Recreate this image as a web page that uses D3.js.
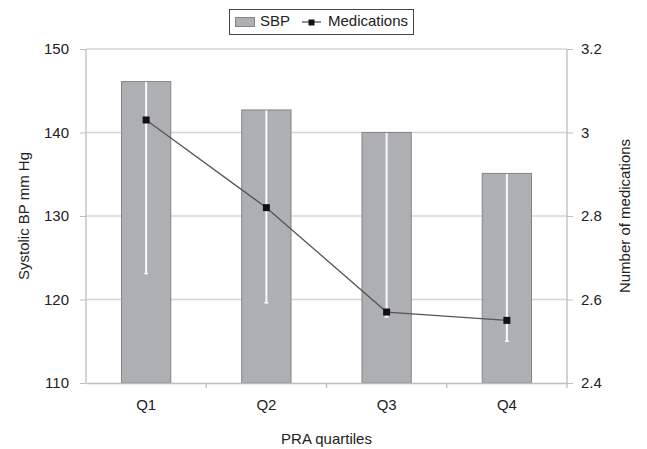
<!DOCTYPE html>
<html>
<head>
<meta charset="utf-8">
<script src="https://cdn.jsdelivr.net/npm/d3@7"></script>
<style>
  body { margin: 0; background: #fff; }
  text { font-family: "Liberation Sans", Arial, sans-serif; fill: #222; }
</style>
</head>
<body>
<div id="chart"></div>
<script>
// Data.
let quartiles = ["Q1", "Q2", "Q3", "Q4"];
let sbpMeans = [146.1, 142.7, 140.0, 135.1];
let sbpLower = [123.1, 119.6, 117.9, 115.0];  // lower end of error bars
let medications = [3.03, 2.82, 2.57, 2.55];
let leftTicks = [110, 120, 130, 140, 150];
let rightTicks = [2.4, 2.6, 2.8, 3, 3.2];

let W = 647, H = 449;
let margin = {top: 49, right: 80, bottom: 66, left: 86};
let width = W - margin.left - margin.right,
    height = H - margin.top - margin.bottom;

let data = quartiles.map((q, i) => ({q: q, sbp: sbpMeans[i], lo: sbpLower[i], med: medications[i]}));

let svg = d3.select("#chart").append("svg")
    .attr("width", W).attr("height", H);

let g = svg.append("g").attr("transform", "translate(" + margin.left + "," + margin.top + ")");

// Scales.
let x = d3.scaleBand().domain(quartiles).range([0, width]).paddingInner(0).paddingOuter(0);
let yL = d3.scaleLinear().domain([110, 150]).range([height, 0]);
let yR = d3.scaleLinear().domain([2.4, 3.2]).range([height, 0]);

let gridColor = "#d4d4d4";
let axisColor = "#bdbdbd";

// Gridlines.
g.append("g").selectAll("line")
  .data(leftTicks.slice(1))
  .enter().append("line")
  .attr("x1", 0).attr("x2", width)
  .attr("y1", d => yL(d)).attr("y2", d => yL(d))
  .attr("stroke", gridColor).attr("stroke-width", 1.3);

// Bars.
let bw = x.bandwidth() * 0.41;
g.append("g").selectAll("rect")
  .data(data)
  .enter().append("rect")
  .attr("x", d => x(d.q) + x.bandwidth() / 2 - bw / 2)
  .attr("y", d => yL(d.sbp))
  .attr("width", bw)
  .attr("height", d => height - yL(d.sbp))
  .attr("fill", "#aeafb2")
  .attr("stroke", "#858585")
  .attr("stroke-width", 1);

// Error bars (white, the upper half disappears against the white background).
let eb = g.append("g");
eb.selectAll("line.eb")
  .data(data)
  .enter().append("line")
  .attr("class", "eb")
  .attr("x1", d => x(d.q) + x.bandwidth() / 2)
  .attr("x2", d => x(d.q) + x.bandwidth() / 2)
  .attr("y1", d => yL(d.sbp) + 0.5)
  .attr("y2", d => yL(d.lo))
  .attr("stroke", "#fafafa").attr("stroke-width", 2);
eb.selectAll("line.cap")
  .data(data)
  .enter().append("line")
  .attr("class", "cap")
  .attr("x1", d => x(d.q) + x.bandwidth() / 2 - 2)
  .attr("x2", d => x(d.q) + x.bandwidth() / 2 + 2)
  .attr("y1", d => yL(d.lo))
  .attr("y2", d => yL(d.lo))
  .attr("stroke", "#fafafa").attr("stroke-width", 1.5);

// Axes.
let axL = g.append("g")
  .call(d3.axisLeft(yL).tickValues(leftTicks).tickSize(6).tickPadding(11).tickFormat(d3.format("d")));
let axR = g.append("g")
  .attr("transform", "translate(" + width + ",0)")
  .call(d3.axisRight(yR).tickValues(rightTicks).tickSize(6).tickPadding(8).tickFormat(d => String(d)));
let axB = g.append("g")
  .attr("transform", "translate(0," + height + ")")
  .call(d3.axisBottom(x).tickSize(0).tickPadding(16));

[axL, axR, axB].forEach(a => {
  a.select(".domain").attr("stroke", axisColor).attr("stroke-width", 1.3);
  a.selectAll(".tick line").attr("stroke", axisColor);
  a.selectAll(".tick text").attr("fill", "#222").style("font-size", "15px")
    .style("font-family", "'Liberation Sans', Arial, sans-serif");
});
axL.select(".domain").attr("d", "M0," + height + "V0");
axR.select(".domain").attr("d", "M0," + height + "V0");

// Category separator ticks on x axis.
g.append("g").selectAll("line")
  .data(quartiles.slice(1).concat(["end"]))
  .enter().append("line")
  .attr("x1", (d, i) => i < 3 ? x(d) : width)
  .attr("x2", (d, i) => i < 3 ? x(d) : width)
  .attr("y1", height).attr("y2", height + 5)
  .attr("stroke", axisColor).attr("stroke-width", 1.3);

// Medications line.
g.append("path")
  .datum(data)
  .attr("fill", "none")
  .attr("stroke", "#555")
  .attr("stroke-width", 1.3)
  .attr("d", d3.line().x(d => x(d.q) + x.bandwidth() / 2).y(d => yR(d.med)));

g.append("g").selectAll("rect")
  .data(data)
  .enter().append("rect")
  .attr("x", d => x(d.q) + x.bandwidth() / 2 - 3.5)
  .attr("y", d => yR(d.med) - 3.5)
  .attr("width", 7).attr("height", 7)
  .attr("fill", "#111");

// Axis titles.
svg.append("text")
  .attr("transform", "translate(25," + (margin.top + height / 2) + ") rotate(-90)")
  .attr("text-anchor", "middle").attr("dominant-baseline", "middle")
  .style("font-size", "15px")
  .text("Systolic BP mm Hg");

svg.append("text")
  .attr("transform", "translate(626," + (margin.top + height / 2) + ") rotate(-90)")
  .attr("text-anchor", "middle").attr("dominant-baseline", "middle")
  .style("font-size", "15px")
  .text("Number of medications");

svg.append("text")
  .attr("x", margin.left + width / 2).attr("y", 440)
  .attr("text-anchor", "middle").attr("dominant-baseline", "middle")
  .style("font-size", "15px")
  .text("PRA quartiles");

// Legend.
let lg = svg.append("g");
lg.append("rect").attr("x", 229.5).attr("y", 9.5).attr("width", 184).attr("height", 25)
  .attr("fill", "#fff").attr("stroke", "#444").attr("stroke-width", 1);
lg.append("rect").attr("x", 235.5).attr("y", 17.5).attr("width", 19).attr("height", 9)
  .attr("fill", "#aeafb2").attr("stroke", "#858585");
lg.append("text").attr("x", 260).attr("y", 22).attr("dominant-baseline", "middle")
  .style("font-size", "15px").text("SBP");
lg.append("line").attr("x1", 302).attr("x2", 321).attr("y1", 22).attr("y2", 22)
  .attr("stroke", "#555").attr("stroke-width", 1.3);
lg.append("rect").attr("x", 308.5).attr("y", 19.5).attr("width", 6).attr("height", 6).attr("fill", "#111");
lg.append("text").attr("x", 328).attr("y", 22).attr("dominant-baseline", "middle")
  .style("font-size", "15px").text("Medications");
</script>
</body>
</html>
